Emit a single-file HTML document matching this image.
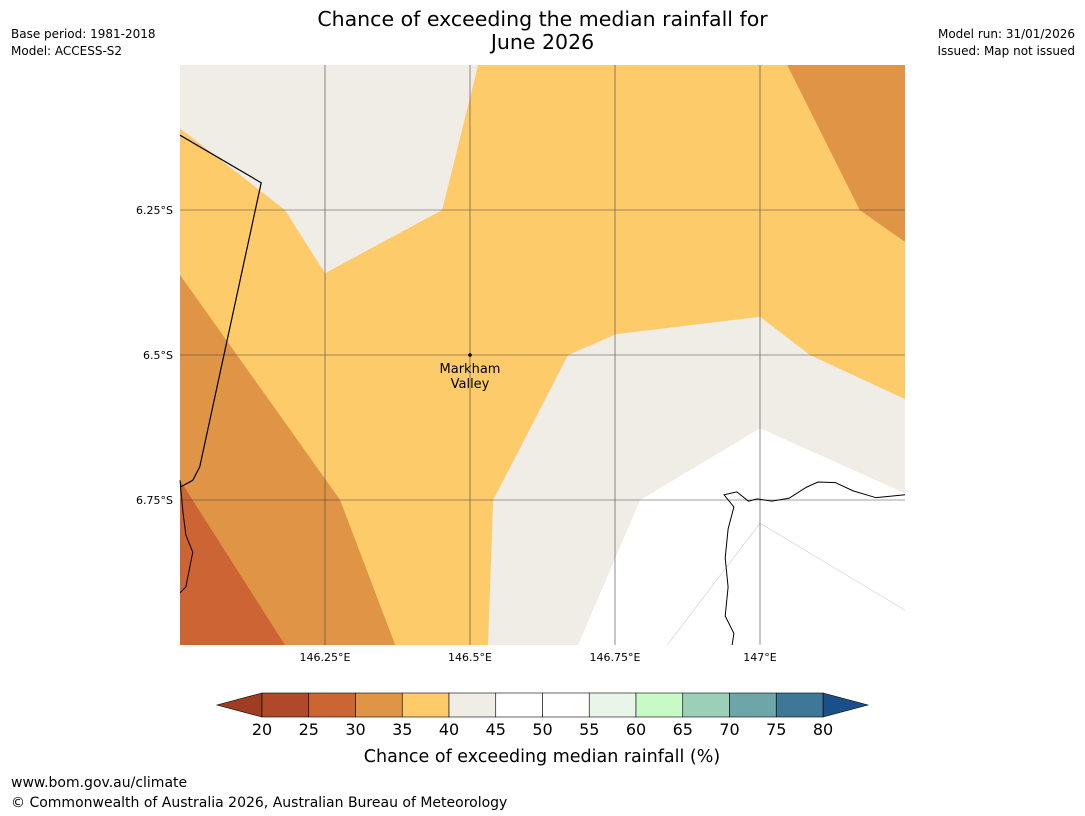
<!DOCTYPE html>
<html><head><meta charset="utf-8"><style>
body{margin:0;background:#fff;font-family:"DejaVu Sans",sans-serif;}
#wrap{position:relative;width:1085px;height:816px;overflow:hidden;}
.t{position:absolute;font-size:12px;color:#000;white-space:nowrap;font-family:"DejaVu Sans",sans-serif;}
</style></head><body>
<div id="wrap">
<div class="t" style="left:0;width:1085px;top:8px;text-align:center;font-size:20.5px;line-height:23px;">Chance of exceeding the median rainfall for<br>June 2026</div>
<div class="t" style="left:11px;top:27px;">Base period: 1981-2018</div>
<div class="t" style="left:11px;top:44px;">Model: ACCESS-S2</div>
<div class="t" style="right:10px;top:27px;">Model run: 31/01/2026</div>
<div class="t" style="right:10px;top:44px;">Issued: Map not issued</div>
<div class="t" style="left:11px;top:775px;font-size:14px;">www.bom.gov.au/climate</div>
<div class="t" style="left:11px;top:795px;font-size:14px;">© Commonwealth of Australia 2026, Australian Bureau of Meteorology</div>
<svg id="svg" width="1085" height="816" style="position:absolute;left:0;top:0"></svg>
</div>
<script>
const lonTicks=[146.25,146.5,146.75,147];
const lonLabels=["146.25°E","146.5°E","146.75°E","147°E"];
const latTicks=[6.25,6.5,6.75];
const latLabels=["6.25°S","6.5°S","6.75°S"];
const binEdges=[20,25,30,35,40,45,50,55,60,65,70,75,80];
const binColors=["#b0492a","#cc6533","#e09446","#fdcb69","#f0ece6","#ffffff","#ffffff","#eaf5ea","#c8fac8","#9ccfb8","#6ea5a8","#3f7896"];
const regionGrey1=[[146,6],[146.514,6],[146.452,6.25],[146.25,6.359],[146.181,6.25],[146,6.109]];
const regionOrange1=[[147.047,6],[147.25,6],[147.25,6.305],[147.172,6.25]];
const regionGrey2=[[146.669,6.5],[146.752,6.464],[147,6.434],[147.086,6.5],[147.25,6.576],[147.25,6.738],[147,6.626],[146.793,6.75],[146.686,7],[146.531,7],[146.540,6.75]];
const regionWhite=[[146.686,7],[146.793,6.75],[147,6.626],[147.25,6.738],[147.25,7]];
const regionOrange2=[[146,6.362],[146.276,6.75],[146.371,7],[146,7]];
const regionRed=[[146,6.716],[146.181,7],[146,7]];
const border=[[146,6.121],[146.14,6.203],[146.034,6.693],[146.022,6.716],[146,6.728]];
const coast=[[147.25,6.741],[147.2,6.746],[147.16,6.734],[147.13,6.720],[147.1,6.719],[147.08,6.728],[147.05,6.747],[147.02,6.752],[146.995,6.748],[146.98,6.752],[146.96,6.736],[146.938,6.741],[146.955,6.762],[146.945,6.8],[146.94,6.85],[146.945,6.9],[146.94,6.95],[146.955,6.98],[146.952,7]];
const coastL=[[146,6.716],[146.005,6.77],[146.01,6.81],[146.022,6.84],[146.01,6.90],[146,6.91]];
const site={lon:146.5,lat:6.5,name:["Markham","Valley"]};
const X=l=>180+(l-146)*580, Y=l=>65+(l-6)*580;
const svg=document.getElementById('svg'),NS="http://www.w3.org/2000/svg";
function mk(t,a,name){const e=document.createElementNS(NS,t);for(const k in a)e.setAttribute(k,a[k]);


svg.appendChild(e);return e;}
const pts=p=>p.map(q=>X(q[0])+","+Y(q[1])).join(" ");
mk('rect',{x:180,y:65,width:725,height:580,fill:binColors[3]},'map-background');
mk('polygon',{points:pts(regionGrey1),fill:binColors[4]},'region-40-45-north');
mk('polygon',{points:pts(regionOrange1),fill:binColors[2]},'region-30-35-northeast');
mk('polygon',{points:pts(regionGrey2),fill:binColors[4]},'region-40-45-southeast');
mk('polygon',{points:pts(regionWhite),fill:"#ffffff"},'region-45-55');
mk('polygon',{points:pts(regionOrange2),fill:binColors[2]},'region-30-35-west');
mk('polygon',{points:pts(regionRed),fill:binColors[1]},'region-25-30');
mk('polyline',{points:[X(146.84)+","+Y(7),X(147)+","+Y(6.79),X(147.25)+","+Y(6.94)].join(" "),fill:"none",stroke:"#ccc","stroke-width":0.6},'faint-contour');
lonTicks.forEach((v,i)=>{mk('line',{x1:X(v),x2:X(v),y1:65,y2:645,stroke:"#444","stroke-width":0.6},'grid-lon');
const t=mk('text',{x:X(v),y:661,"text-anchor":"middle","font-size":11,"font-family":"DejaVu Sans,sans-serif"},'lon-tick-label');t.textContent=lonLabels[i];});
latTicks.forEach((v,i)=>{mk('line',{x1:180,x2:905,y1:Y(v),y2:Y(v),stroke:"#444","stroke-width":0.6},'grid-lat');
const t=mk('text',{x:173,y:Y(v)+4,"text-anchor":"end","font-size":11,"font-family":"DejaVu Sans,sans-serif"},'lat-tick-label');t.textContent=latLabels[i];});
mk('polyline',{points:pts(border),fill:"none",stroke:"#000","stroke-width":1.2},'border-line');
mk('polyline',{points:pts(coast),fill:"none",stroke:"#000","stroke-width":1},'coastline');
mk('polyline',{points:pts(coastL),fill:"none",stroke:"#000","stroke-width":1},'coastline-west');
mk('circle',{cx:X(site.lon),cy:Y(site.lat),r:1.8,fill:"#000"},'site-marker');
site.name.forEach((s,i)=>{const t=mk('text',{x:X(site.lon),y:Y(site.lat)+18+i*15,"text-anchor":"middle","font-size":13,"font-family":"DejaVu Sans,sans-serif"},'site-label');t.textContent=s;});
const cb0=262,cb1=823,cy0=693,ch=24,w=(cb1-cb0)/binColors.length;
mk('polygon',{points:`${cb0},${cy0} ${cb0},${cy0+ch} 217,${cy0+ch/2}`,fill:"#9e3d22",stroke:"#000","stroke-width":0.6},'colorbar-arrow-low');
mk('polygon',{points:`${cb1},${cy0} ${cb1},${cy0+ch} 868,${cy0+ch/2}`,fill:"#1a4f8a",stroke:"#000","stroke-width":0.6},'colorbar-arrow-high');
binColors.forEach((c,i)=>mk('rect',{x:cb0+i*w,y:cy0,width:w,height:ch,fill:c,stroke:"#000","stroke-width":0.6},'colorbar-bin'));
binEdges.forEach((v,i)=>{const t=mk('text',{x:cb0+i*w,y:735,"text-anchor":"middle","font-size":16,"font-family":"DejaVu Sans,sans-serif"},'colorbar-tick');t.textContent=v;});
const ct=mk('text',{x:542,y:762,"text-anchor":"middle","font-size":17.5,"font-family":"DejaVu Sans,sans-serif"},'colorbar-title');ct.textContent="Chance of exceeding median rainfall (%)";
</script>
</body></html>
